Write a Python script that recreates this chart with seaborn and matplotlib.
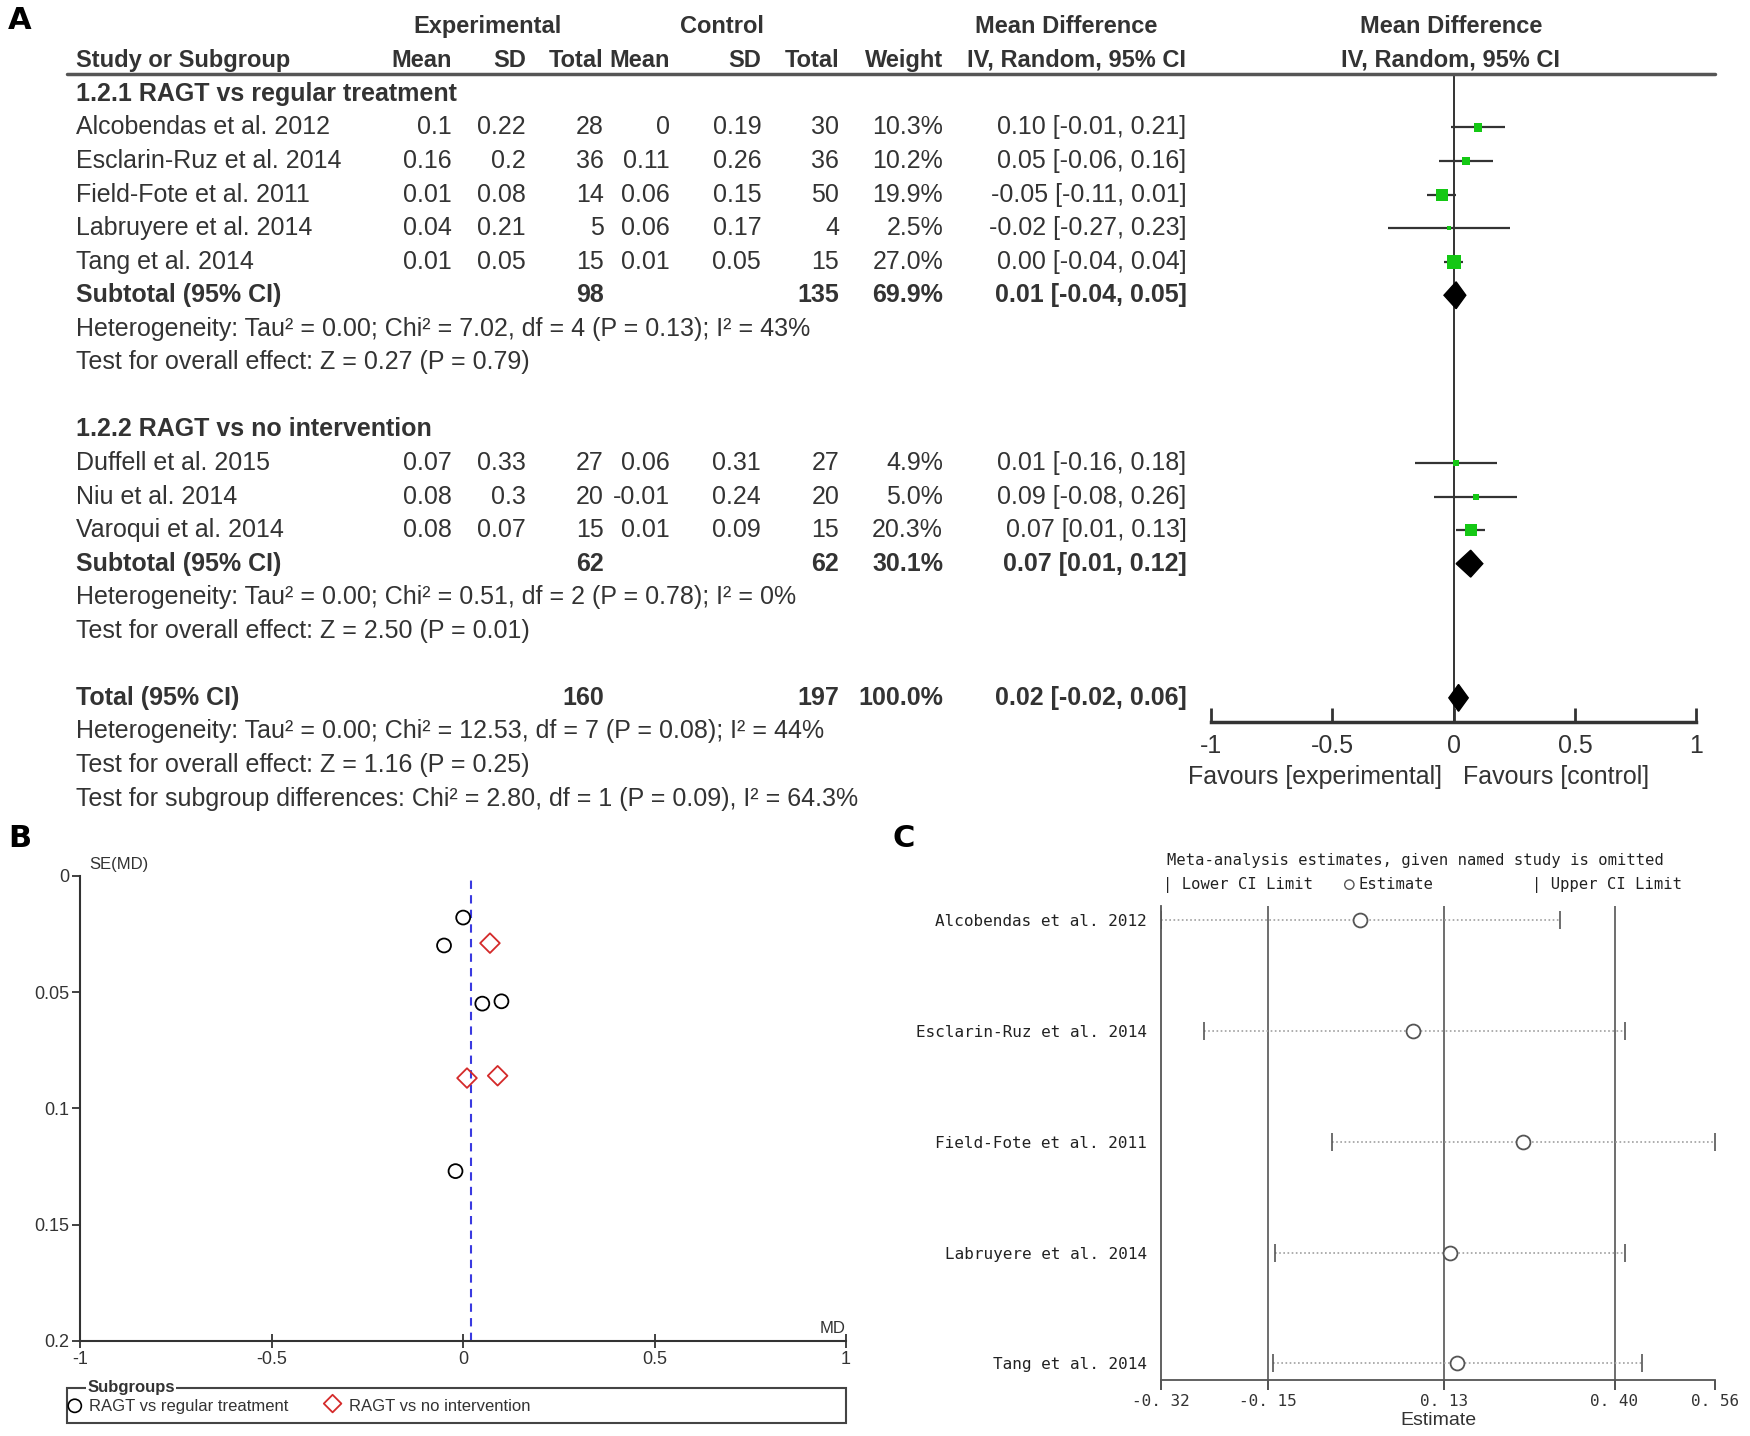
import matplotlib
matplotlib.use("Agg")
import matplotlib.pyplot as plt
from matplotlib import font_manager
from matplotlib.patches import Rectangle
import pandas as pd
import seaborn as sns

# ---------------- panel A: forest plot ----------------
studies_reg = ["Alcobendas et al. 2012", "Esclarin-Ruz et al. 2014", "Field-Fote et al. 2011",
               "Labruyere et al. 2014", "Tang et al. 2014"]
exp_mean_reg = [0.1, 0.16, 0.01, 0.04, 0.01]
exp_sd_reg = [0.22, 0.2, 0.08, 0.21, 0.05]
exp_n_reg = [28, 36, 14, 5, 15]
ctl_mean_reg = [0, 0.11, 0.06, 0.06, 0.01]
ctl_sd_reg = [0.19, 0.26, 0.15, 0.17, 0.05]
ctl_n_reg = [30, 36, 50, 4, 15]
weight_reg = [10.3, 10.2, 19.9, 2.5, 27.0]
md_reg = [0.10, 0.05, -0.05, -0.02, 0.00]
lo_reg = [-0.01, -0.06, -0.11, -0.27, -0.04]
hi_reg = [0.21, 0.16, 0.01, 0.23, 0.04]

studies_noi = ["Duffell et al. 2015", "Niu et al. 2014", "Varoqui et al. 2014"]
exp_mean_noi = [0.07, 0.08, 0.08]
exp_sd_noi = [0.33, 0.3, 0.07]
exp_n_noi = [27, 20, 15]
ctl_mean_noi = [0.06, -0.01, 0.01]
ctl_sd_noi = [0.31, 0.24, 0.09]
ctl_n_noi = [27, 20, 15]
weight_noi = [4.9, 5.0, 20.3]
md_noi = [0.01, 0.09, 0.07]
lo_noi = [-0.16, -0.08, 0.01]
hi_noi = [0.18, 0.26, 0.13]

# subtotal / total: exp n, ctl n, weight, md, lo, hi
sub_reg = [98, 135, 69.9, 0.01, -0.04, 0.05]
sub_noi = [62, 62, 30.1, 0.07, 0.01, 0.12]
total = [160, 197, 100.0, 0.02, -0.02, 0.06]

het_reg = ["Heterogeneity: Tau\u00b2 = 0.00; Chi\u00b2 = 7.02, df = 4 (P = 0.13); I\u00b2 = 43%",
           "Test for overall effect: Z = 0.27 (P = 0.79)"]
het_noi = ["Heterogeneity: Tau\u00b2 = 0.00; Chi\u00b2 = 0.51, df = 2 (P = 0.78); I\u00b2 = 0%",
           "Test for overall effect: Z = 2.50 (P = 0.01)"]
het_tot = ["Heterogeneity: Tau\u00b2 = 0.00; Chi\u00b2 = 12.53, df = 7 (P = 0.08); I\u00b2 = 44%",
           "Test for overall effect: Z = 1.16 (P = 0.25)",
           "Test for subgroup differences: Chi\u00b2 = 2.80, df = 1 (P = 0.09), I\u00b2 = 64.3%"]

# ---------------- panel B: funnel plot ----------------
se_reg = [0.054, 0.055, 0.030, 0.127, 0.018]
se_noi = [0.087, 0.086, 0.029]
pooled_md = 0.02

# ---------------- panel C: leave-one-out ----------------
loo_studies = studies_reg
loo_est = [-0.004, 0.081, 0.255, 0.139, 0.150]
loo_lower = [-0.32, -0.251, -0.049, -0.138, -0.142]
loo_upper = [0.313, 0.416, 0.56, 0.416, 0.443]
c_ticks = [-0.32, -0.15, 0.13, 0.40, 0.56]
c_ticklabels = ["-0. 32", "-0. 15", "0. 13", "0. 40", "0. 56"]

W, H = 1568, 1284  # layout grid used for placing panels and text


def box(x0, y0, x1, y1):
    return [x0 / W, 1 - y1 / H, (x1 - x0) / W, (y1 - y0) / H]


def row_y(r):
    return 54 + 30 * r


sns.set_theme(style="white")
names = {f.name for f in font_manager.fontManager.ttflist}
SANS = "Liberation Sans" if "Liberation Sans" in names else "DejaVu Sans"
MONO = "DejaVu Sans Mono"
plt.rcParams["font.family"] = [SANS, "DejaVu Sans"]

TXT = "#333333"
GREEN = "#14c814"
FS = 18
FS_HEAD = 17

fig = plt.figure(figsize=(17.5, 14.36), dpi=100)
ax_t = fig.add_axes([0, 0, 1, 1])
ax_t.set_xlim(0, W)
ax_t.set_ylim(H, 0)
ax_t.axis("off")
ax_t.set_zorder(10)


def put(x, y, s, ha="left", bold=False, size=FS, **kw):
    ax_t.text(x, y, s, ha=ha, va="center", fontsize=size, color=kw.pop("color", TXT),
              fontweight="bold" if bold else "normal", **kw)


# panel letters
for lab, x, y in [("A", 7, 18), ("B", 7, 750), ("C", 800, 750)]:
    ax_t.text(x, y, lab, fontsize=22, fontweight="bold", color="black", va="center",
              family="DejaVu Sans")

# header
col_x = [405, 471, 541, 600, 682, 752, 845, 1063]
put(437, row_y(-1), "Experimental", ha="center", bold=True, size=FS_HEAD)
put(647, row_y(-1), "Control", ha="center", bold=True, size=FS_HEAD)
put(955, row_y(-1), "Mean Difference", ha="center", bold=True, size=FS_HEAD)
put(1300, row_y(-1), "Mean Difference", ha="center", bold=True, size=FS_HEAD)
put(68, row_y(0), "Study or Subgroup", bold=True, size=FS_HEAD)
for x, s in zip(col_x, ["Mean", "SD", "Total", "Mean", "SD", "Total", "Weight", "IV, Random, 95% CI"]):
    put(x, row_y(0), s, ha="right", bold=True, size=FS_HEAD)
put(1300, row_y(0), "IV, Random, 95% CI", ha="center", bold=True, size=FS_HEAD)
ax_t.plot([60, 1537], [66, 66], color="#555555", lw=2.5)


def ci_text(m, l, h):
    return f"{m:.2f} [{l:.2f}, {h:.2f}]"


def study_rows(first_row, studies, em, es, en, cm, cs, cn, w, md, lo, hi):
    for i, name in enumerate(studies):
        y = row_y(first_row + i)
        put(68, y, name)
        vals = [f"{em[i]:g}", f"{es[i]:g}", f"{en[i]}", f"{cm[i]:g}", f"{cs[i]:g}",
                f"{cn[i]}", f"{w[i]:.1f}%", ci_text(md[i], lo[i], hi[i])]
        for x, s in zip(col_x, vals):
            put(x, y, s, ha="right")


def summary_row(r, label, vals):
    y = row_y(r)
    put(68, y, label, bold=True)
    put(col_x[2], y, f"{vals[0]}", ha="right", bold=True)
    put(col_x[5], y, f"{vals[1]}", ha="right", bold=True)
    put(col_x[6], y, f"{vals[2]:.1f}%", ha="right", bold=True)
    put(col_x[7], y, ci_text(*vals[3:]), ha="right", bold=True)


rows_reg = [2, 3, 4, 5, 6]
rows_noi = [12, 13, 14]
put(68, row_y(1), "1.2.1 RAGT vs regular treatment", bold=True)
study_rows(2, studies_reg, exp_mean_reg, exp_sd_reg, exp_n_reg, ctl_mean_reg, ctl_sd_reg,
           ctl_n_reg, weight_reg, md_reg, lo_reg, hi_reg)
summary_row(7, "Subtotal (95% CI)", sub_reg)
for k, s in enumerate(het_reg):
    put(68, row_y(8 + k), s)
put(68, row_y(11), "1.2.2 RAGT vs no intervention", bold=True)
study_rows(12, studies_noi, exp_mean_noi, exp_sd_noi, exp_n_noi, ctl_mean_noi, ctl_sd_noi,
           ctl_n_noi, weight_noi, md_noi, lo_noi, hi_noi)
summary_row(15, "Subtotal (95% CI)", sub_noi)
for k, s in enumerate(het_noi):
    put(68, row_y(16 + k), s)
summary_row(19, "Total (95% CI)", total)
for k, s in enumerate(het_tot):
    put(68, row_y(20 + k), s)

# forest plot axes
ax_f = fig.add_axes(box(1085, 66, 1520, 646))
ax_f.patch.set_alpha(0)
ax_f.set_xlim(-1, 1)
ax_f.set_ylim((646 - 54) / 30, (66 - 54) / 30)
for s in ["top", "right", "left"]:
    ax_f.spines[s].set_visible(False)
ax_f.spines["bottom"].set_linewidth(2.5)
ax_f.spines["bottom"].set_color("#333333")
ax_f.set_xticks([-1, -0.5, 0, 0.5, 1], ["-1", "-0.5", "0", "0.5", "1"])
ax_f.set_yticks([])
ax_f.tick_params(axis="x", direction="in", length=10, width=2, pad=8, labelsize=FS,
                 colors="#333333", bottom=True)
ax_f.axvline(0, color="#333333", lw=1.4, zorder=1)
for rows, md, lo, hi, w in [(rows_reg, md_reg, lo_reg, hi_reg, weight_reg),
                            (rows_noi, md_noi, lo_noi, hi_noi, weight_noi)]:
    ax_f.hlines(rows, lo, hi, color="#333333", lw=1.6, zorder=2)
    ax_f.scatter(md, rows, marker="s", s=[3.7 * v for v in w], color=GREEN, lw=0, zorder=3)
for r, vals in [(7, sub_reg), (15, sub_noi), (19, total)]:
    m, l, h = vals[3:]
    ax_f.fill([l, m, h, m], [r, r - 0.4, r, r + 0.4], color="black", zorder=3)
put(1292, 695, "Favours [experimental]", ha="right")
put(1311, 695, "Favours [control]")

# ---------------- panel B ----------------
funnel = pd.DataFrame({
    "md": md_reg + md_noi,
    "se": se_reg + se_noi,
    "subgroup": ["RAGT vs regular treatment"] * len(md_reg) + ["RAGT vs no intervention"] * len(md_noi),
})
ax_b = fig.add_axes(box(72, 783, 758, 1199))
ax_b.axvline(pooled_md, color="#3a3ae0", lw=1.5, dashes=(4, 3), zorder=1)
sns.scatterplot(data=funnel, x="md", y="se", hue="subgroup", style="subgroup",
                markers={"RAGT vs regular treatment": "o", "RAGT vs no intervention": "D"},
                palette={"RAGT vs regular treatment": "black", "RAGT vs no intervention": "#d42a2a"},
                s=100, linewidth=1.3, legend=False, ax=ax_b, zorder=3)
for coll in ax_b.collections:
    fc = coll.get_facecolors().copy()
    coll.set_edgecolors(fc)
    coll.set_facecolors("none")
ax_b.set_xlim(-1, 1)
ax_b.set_ylim(0.2, 0)
for s in ["top", "right"]:
    ax_b.spines[s].set_visible(False)
for s in ["left", "bottom"]:
    ax_b.spines[s].set_color("#333333")
    ax_b.spines[s].set_linewidth(1.5)
ax_b.set_xticks([-1, -0.5, 0, 0.5, 1], ["-1", "-0.5", "0", "0.5", "1"])
ax_b.set_yticks([0, 0.05, 0.1, 0.15, 0.2], ["0", "0.05", "0.1", "0.15", "0.2"])
ax_b.tick_params(axis="x", direction="inout", length=10, width=1.3, labelsize=13, colors="#333333",
                 bottom=True, pad=2)
ax_b.tick_params(axis="y", direction="out", length=6, width=1.3, labelsize=13, colors="#333333",
                 left=True, pad=2)
ax_b.set_xlabel("")
ax_b.set_ylabel("")
put(80, 773, "SE(MD)", size=12)
put(758, 1188, "MD", ha="right", size=12)

# legend box for B
ax_t.add_patch(Rectangle((60, 1241), 698, 31, fill=False, edgecolor="#444444", lw=1.5))
put(78, 1241, "Subgroups", bold=True, size=12,
    bbox=dict(facecolor="white", edgecolor="none", pad=1))
ax_t.scatter([67], [1257], marker="o", s=90, facecolors="none", edgecolors="black", lw=1.2)
put(80, 1258, "RAGT vs regular treatment", size=12)
ax_t.scatter([298], [1255], marker="D", s=80, facecolors="none", edgecolors="#d42a2a", lw=1.3)
put(313, 1258, "RAGT vs no intervention", size=12)

# ---------------- panel C ----------------
loo = pd.DataFrame({"study": loo_studies, "estimate": loo_est,
                    "lower": loo_lower, "upper": loo_upper})
loo["row"] = range(len(loo))
ax_c = fig.add_axes(box(1040, 810, 1537, 1234))
for v in c_ticks[1:-1]:
    ax_c.axvline(v, color="#555555", lw=1.2, zorder=1)
ax_c.hlines(loo["row"], loo["lower"], loo["upper"], colors="#a0a0a0", linestyles=(0, (1, 1.5)), lw=1.2)
ax_c.scatter(loo["lower"], loo["row"], marker="|", s=150, color="#555555", lw=1.2, zorder=3)
ax_c.scatter(loo["upper"], loo["row"], marker="|", s=150, color="#555555", lw=1.2, zorder=3)
sns.scatterplot(data=loo, x="estimate", y="row", s=100, facecolor="white", edgecolor="#555555",
                linewidth=1.3, ax=ax_c, zorder=4)
ax_c.set_xlim(-0.32, 0.56)
ax_c.set_ylim(4.152, -0.131)
for s in ["top", "right"]:
    ax_c.spines[s].set_visible(False)
for s in ["left", "bottom"]:
    ax_c.spines[s].set_color("#555555")
    ax_c.spines[s].set_linewidth(1.3)
ax_c.set_yticks(loo["row"], loo["study"])
ax_c.set_xticks(c_ticks, c_ticklabels)
ax_c.tick_params(axis="y", length=0, pad=10, labelsize=11.5, colors="#222222", labelfontfamily=MONO)
ax_c.tick_params(axis="x", direction="out", length=7, width=1.2, pad=3, labelsize=11.5,
                 colors="#333333", bottom=True, labelfontfamily=MONO)
ax_c.set_ylabel("")
ax_c.set_xlabel("Estimate", fontsize=14, color="#333333", labelpad=2)

mono = dict(family=MONO, size=11.2)
ax_t.text(1046, 769, "Meta-analysis estimates, given named study is omitted", va="center",
          color="#222222", fontdict=mono)
ax_t.text(1042, 791, "| Lower CI Limit", va="center", color="#222222", fontdict=mono)
ax_t.scatter([1209], [791], marker="o", s=45, facecolors="none", edgecolors="#555555", lw=1)
ax_t.text(1217, 791, "Estimate", va="center", color="#222222", fontdict=mono)
ax_t.text(1373, 791, "| Upper CI Limit", va="center", color="#222222", fontdict=mono)

fig.savefig("out.png", dpi=100)
